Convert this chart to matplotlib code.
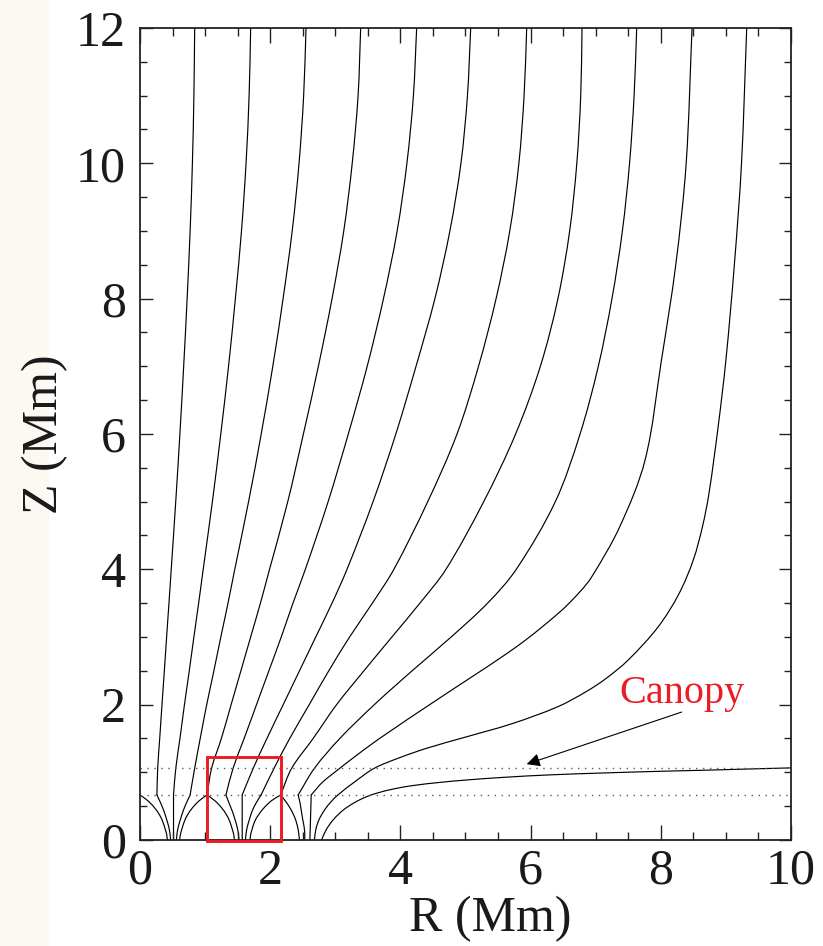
import matplotlib

matplotlib.use("Agg")

import matplotlib.pyplot as plt  # noqa: E402
from matplotlib.path import Path  # noqa: E402
from matplotlib.patches import PathPatch, Rectangle  # noqa: E402
from matplotlib.ticker import MultipleLocator  # noqa: E402

plt.rcParams["font.family"] = ["Liberation Serif", "DejaVu Serif"]

RED = "#ec1c24"

# Heights (Mm): where the flux tubes merge, and the canopy base.
Z_MERGE = 0.665
Z_CANOPY = 1.065

# Field lines above the merging height, sampled on a common set of heights.
Z_UP = [0.665, 1.06, 1.5, 2.0, 2.5, 3.0, 3.5, 4.0, 5.0, 6.0, 7.0, 8.0, 9.0, 10.0, 11.0, 12.0]
R_A2 = [0.26, 0.272, 0.303, 0.338, 0.374, 0.409, 0.445, 0.48, 0.549, 0.613, 0.671, 0.724, 0.77, 0.805, 0.828, 0.84]
R_A3 = [0.515, 0.55, 0.614, 0.683, 0.757, 0.828, 0.901, 0.971, 1.112, 1.241, 1.36, 1.465, 1.559, 1.629, 1.676, 1.70]
R_A4 = [0.77, 0.84, 0.925, 1.025, 1.135, 1.242, 1.352, 1.456, 1.668, 1.862, 2.04, 2.198, 2.338, 2.443, 2.514, 2.55]
R_AB = [1.03, 1.10, 1.25, 1.40, 1.55, 1.70, 1.85, 1.99, 2.27, 2.51, 2.74, 2.95, 3.13, 3.26, 3.35, 3.39]
R_B2 = [1.32, 1.43, 1.60, 1.79, 1.98, 2.17, 2.35, 2.54, 2.89, 3.20, 3.49, 3.74, 3.95, 4.10, 4.20, 4.25]
R_B3 = [1.57, 1.74, 1.95, 2.20, 2.45, 2.70, 2.95, 3.18, 3.58, 3.93, 4.24, 4.53, 4.76, 4.93, 5.03, 5.08]
R_B4 = [1.86, 2.06, 2.30, 2.60, 2.90, 3.22, 3.57, 3.90, 4.42, 4.87, 5.20, 5.47, 5.68, 5.82, 5.90, 5.94]
R_BC = [2.16, 2.33, 2.66, 3.02, 3.44, 3.87, 4.30, 4.70, 5.28, 5.77, 6.15, 6.42, 6.60, 6.71, 6.77, 6.79]
R_C2 = [2.43, 2.68, 3.07, 3.60, 4.18, 4.78, 5.34, 5.78, 6.38, 6.76, 7.04, 7.25, 7.41, 7.52, 7.59, 7.63]

# Outer lines of the right-hand tube, which bend over into the canopy.
C3_R = [2.63, 2.80, 3.07, 3.23, 3.68, 4.56, 5.79, 6.45, 6.76, 6.94, 7.37, 7.76, 8.01, 8.23, 8.39, 8.48]
C3_Z = [0.665, 0.85, 1.06, 1.18, 1.50, 2.07, 2.86, 3.37, 3.67, 3.89, 4.63, 5.62, 7.09, 8.5, 10.0, 12.0]
C4_R = [2.68, 2.70, 2.75, 2.84, 2.94, 3.04, 3.30, 3.60, 4.00, 4.42, 5.00, 5.72, 6.42, 6.85, 7.15, 7.50,
        7.96, 8.28, 8.50, 8.64, 8.74, 8.88, 9.00, 9.13, 9.24, 9.32]
C4_Z = [0.0, 0.15, 0.3, 0.45, 0.57, 0.665, 0.86, 1.06, 1.22, 1.36, 1.52, 1.72, 1.97, 2.19, 2.38, 2.66,
        3.15, 3.64, 4.14, 4.63, 5.12, 6.1, 7.09, 8.5, 10.0, 12.0]
C5_R = [2.79, 2.86, 2.97, 3.12, 3.30, 3.47, 3.65, 3.90, 4.20, 4.60, 5.00, 5.58, 6.30, 7.12, 8.00, 8.65,
        9.40, 10.0]
C5_Z = [0.0, 0.15, 0.3, 0.44, 0.555, 0.635, 0.695, 0.755, 0.805, 0.85, 0.885, 0.925, 0.962, 0.99, 1.015,
        1.03, 1.05, 1.065]

# Field lines inside the flux tubes, below the merging height.
Z_BOUND = [0.0, 0.08, 0.15, 0.27, 0.37, 0.48, 0.58, 0.665]
Z_INNER = [0.0, 0.1, 0.2, 0.3, 0.42, 0.54, 0.665]
A1_R = [0.42, 0.41, 0.39, 0.35, 0.30, 0.22, 0.12, 0.0]
A5_R = [0.61, 0.62, 0.64, 0.68, 0.73, 0.81, 0.91, 1.03]
B1_R = [1.45, 1.44, 1.42, 1.38, 1.33, 1.25, 1.15, 1.03]
B5_R = [1.69, 1.70, 1.72, 1.76, 1.82, 1.91, 2.02, 2.16]
C1_R = [2.45, 2.44, 2.43, 2.40, 2.36, 2.30, 2.23, 2.16]
A2_LOW = [0.47, 0.46, 0.44, 0.41, 0.37, 0.32, 0.26]
A4_LOW = [0.56, 0.57, 0.59, 0.62, 0.66, 0.71, 0.77]
B2_LOW = [1.52, 1.51, 1.49, 1.46, 1.42, 1.37, 1.32]
B4_LOW = [1.62, 1.63, 1.65, 1.68, 1.72, 1.78, 1.86]
C2_LOW = [2.53, 2.53, 2.52, 2.50, 2.48, 2.46, 2.43]
A3_LOW = [0.515, 0.515]
B3_LOW = [1.57, 1.57]
C3_LOW = [2.61, 2.63]
Z_STRAIGHT = [0.0, 0.665]

CANOPY_TEXT_AT = (7.37, 2.17)
ARROW_FROM = (8.32, 1.89)
ARROW_TO = (5.94, 1.12)
BOX_R = (1.03, 2.17)
BOX_Z = (-0.02, 1.22)


def smooth_line(ax, r, z, **kw):
    """Draw a smooth curve through the points (cubic Bezier, chord-scaled tangents)."""
    pts = list(zip(r, z))
    n = len(pts)

    def dist(p, q):
        return ((q[0] - p[0]) ** 2 + (q[1] - p[1]) ** 2) ** 0.5

    tang = []
    for i in range(n):
        a = pts[max(i - 1, 0)]
        b = pts[min(i + 1, n - 1)]
        d = dist(a, b) or 1.0
        tang.append(((b[0] - a[0]) / d, (b[1] - a[1]) / d))

    verts = [pts[0]]
    codes = [Path.MOVETO]
    for i in range(n - 1):
        p, q = pts[i], pts[i + 1]
        h = dist(p, q) / 3.0
        verts += [(p[0] + tang[i][0] * h, p[1] + tang[i][1] * h),
                  (q[0] - tang[i + 1][0] * h, q[1] - tang[i + 1][1] * h),
                  q]
        codes += [Path.CURVE4] * 3
    ax.add_patch(PathPatch(Path(verts, codes), fill=False, **kw))


fig = plt.figure(figsize=(8.23, 9.46), dpi=100)
fig.patches.append(Rectangle((0, 0), 48 / 823, 1, transform=fig.transFigure,
                             color="#fbf9f1", zorder=-10))
ax = fig.add_axes([0.1701, 0.1121, 0.7910, 0.8583])

line_kw = dict(edgecolor="black", lw=0.85, capstyle="round", joinstyle="round")

for r_up in (R_A2, R_A3, R_A4, R_AB, R_B2, R_B3, R_B4, R_BC, R_C2):
    smooth_line(ax, r_up, Z_UP, **line_kw)

for r_b in (A1_R, A5_R, B1_R, B5_R, C1_R):
    smooth_line(ax, r_b, Z_BOUND, **line_kw)
for r_i in (A2_LOW, A4_LOW, B2_LOW, B4_LOW, C2_LOW):
    smooth_line(ax, r_i, Z_INNER, **line_kw)
for r_s in (A3_LOW, B3_LOW, C3_LOW):
    smooth_line(ax, r_s, Z_STRAIGHT, **line_kw)

smooth_line(ax, C3_R, C3_Z, **line_kw)
smooth_line(ax, C4_R, C4_Z, **line_kw)
smooth_line(ax, C5_R, C5_Z, **line_kw)

# merging height and canopy base
for zh in (Z_MERGE, Z_CANOPY):
    ax.axhline(zh, color="0.35", lw=1.0, ls=(0, (1, 4)))

ax.add_patch(Rectangle((BOX_R[0], BOX_Z[0]), BOX_R[1] - BOX_R[0], BOX_Z[1] - BOX_Z[0],
                       fill=False, ec=RED, lw=2.1, clip_on=False, zorder=5))

ax.text(*CANOPY_TEXT_AT, "Canopy", color=RED, fontsize=29, ha="left", va="center")
ax.annotate("", xy=ARROW_TO, xytext=ARROW_FROM,
            arrowprops=dict(arrowstyle="-|>", color="black", lw=0.8,
                            mutation_scale=20, shrinkA=0, shrinkB=0))

ax.set_xlim(0, 10)
ax.set_ylim(0, 12)
ax.xaxis.set_major_locator(MultipleLocator(2))
ax.xaxis.set_minor_locator(MultipleLocator(0.5))
ax.yaxis.set_major_locator(MultipleLocator(2))
ax.yaxis.set_minor_locator(MultipleLocator(0.5))
ax.tick_params(which="both", direction="in", top=True, right=True, width=1.0, colors="#222222")
ax.tick_params(axis="x", which="major", length=11, labelsize=36, pad=6)
ax.tick_params(axis="x", which="minor", length=5.5)
ax.tick_params(axis="y", which="major", length=9, labelsize=36, pad=10)
ax.tick_params(axis="y", which="minor", length=5)
for tl in ax.get_xticklabels() + ax.get_yticklabels():
    tl.set_color("#1a1a1a")
for sp in ax.spines.values():
    sp.set_linewidth(1.3)
    sp.set_color("#222222")

ax.set_xlabel("R (Mm)", fontsize=36, color="#1a1a1a")
ax.set_ylabel("Z (Mm)", fontsize=36, color="#1a1a1a")
ax.xaxis.set_label_coords(0.5376, -0.068)
ax.yaxis.set_label_coords(-0.11, 0.5)

fig.savefig("out.png", dpi=100)
plt.close(fig)
